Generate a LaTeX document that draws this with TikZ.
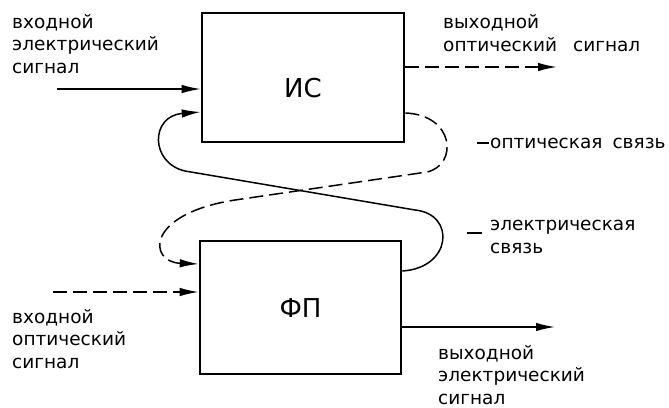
\documentclass[tikz,border=0pt]{standalone}
\usepackage{fontspec}
\setmainfont{DejaVu Sans}
\usetikzlibrary{arrows.meta}
\begin{document}
\begin{tikzpicture}[x=1pt,y=-1pt,
  blk/.style={draw, line width=2.6pt, inner sep=0pt, font=\fontsize{26}{30}\selectfont},
  lbl/.style={anchor=base west, align=left, inner sep=0pt, font=\fontsize{18.5}{22.5}\selectfont},
  conn/.style={line width=1.5pt},
  dsh/.style={conn, dash pattern=on 14pt off 6pt},
  arr/.style={-{Latex[length=19pt,width=8.5pt]}}
]
\useasboundingbox (0,0) rectangle (669,407);

% blocks
\node[blk, minimum width=202pt, minimum height=129pt, text height=40pt, text depth=0pt] (is) at (303,77.5) {ИС};
\node[blk, minimum width=201pt, minimum height=133pt, text height=20pt, text depth=0pt] (fp) at (300.5,307.5) {ФП};

% free ends
\coordinate (inE) at (57,89);
\coordinate (inO) at (53,292);
\coordinate (outO) at (557,67);
\coordinate (outE) at (555,327);
\coordinate (isFb) at (202,112);
\coordinate (isOp) at (404,113);
\coordinate (fpFb) at (200,264);
\coordinate (fpEl) at (401,271);

% signals
\draw[conn, arr] (inE) -- (is.west |- inE);
\draw[dsh, arr] (inO) -- (fp.west |- inO);
\draw[dsh, arr] (is.east |- outO) -- (outO);
\draw[conn, arr] (fp.east |- outE) -- (outE);

% electric feedback (solid)
\draw[conn, arr] (fp.east |- fpEl) .. controls (452,268) and (456,214) .. (415,210)
   -- (185,171) .. controls (150,163) and (150,116) .. (is.west |- isFb);

% optical feedback (dashed)
\draw[dsh, arr] (is.east |- isOp) .. controls (455,115) and (458,165) .. (427,172)
   -- (235,200) .. controls (145,214) and (148,262) .. (fp.west |- fpFb);

% labels (anchor = baseline of the last line)
\node[lbl] (t1) at (12,73) {входной\\электрический\\сигнал};
\node[lbl] (t2) at (443,51) {выходной\\оптический\hspace{16pt}сигнал};
\node[lbl] (t3) at (477,148) {\rule[4.5pt]{12pt}{1.3pt}\hspace{1pt}оптическая\hspace{10pt}связь};
\node[lbl] (t4) at (490,253) {\llap{\rule[-3pt]{15pt}{1.3pt}\hspace{8pt}}электрическая\\связь};
\node[lbl] (t5) at (12,368) {входной\\оптический\\сигнал};
\node[lbl] (t6) at (438,404) {выходной\\электрический\\сигнал};
\end{tikzpicture}
\end{document}
